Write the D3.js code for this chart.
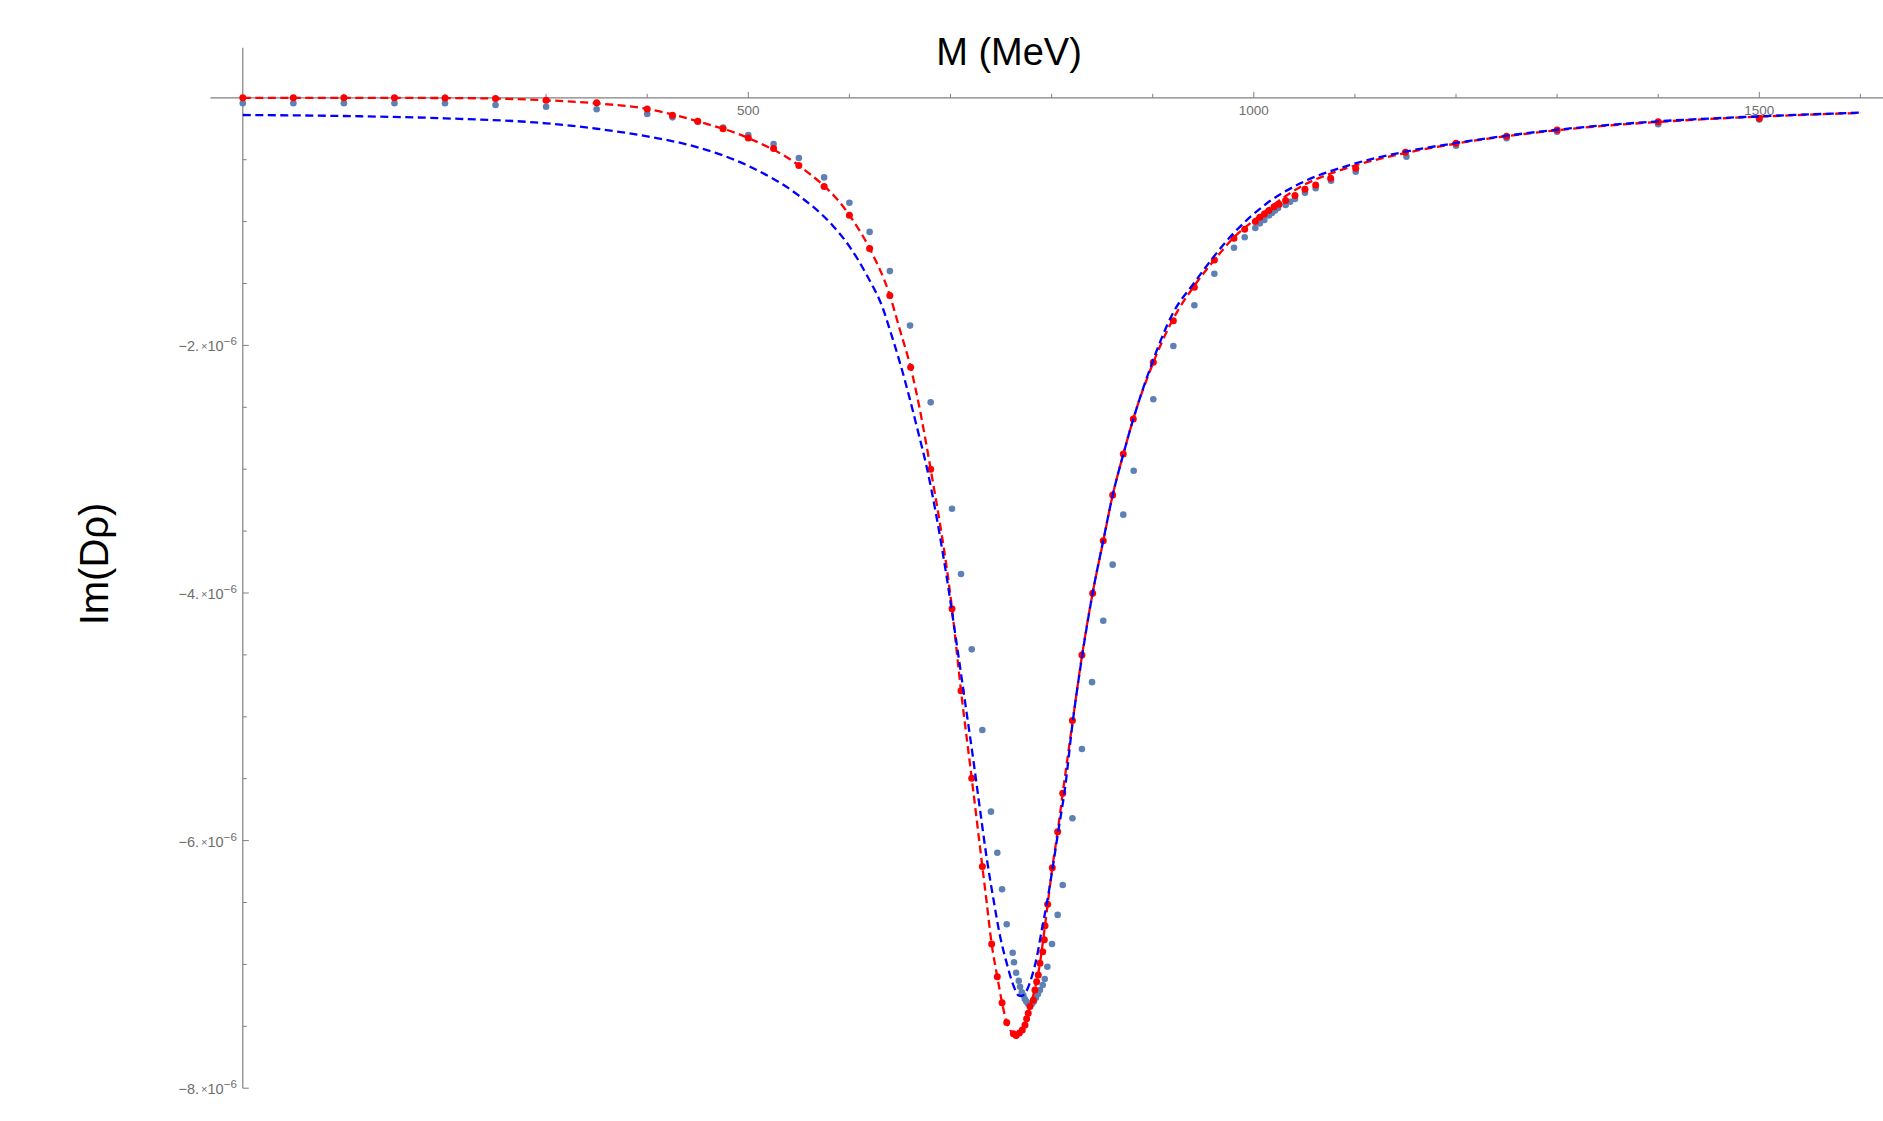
<!DOCTYPE html>
<html><head><meta charset="utf-8">
<script src="https://cdn.jsdelivr.net/npm/d3@7"></script>
<style>body{margin:0;background:#fff}svg{display:block}</style>
</head><body>
<svg id="c" width="1883" height="1121"></svg>
<script>
// ---- data (values in units of 1e-6) ----
const xMajorTicks = [500, 1000, 1500];
const xMinorTicks = [100,200,300,400,600,700,800,900,1100,1200,1300,1400,1600];
const yMajorTicks = [-2, -4, -6, -8];
const yMinorTicks = [-0.5,-1,-1.5,-2.5,-3,-3.5,-4.5,-5,-5.5,-6.5,-7,-7.5];
const yTickLabels = ["\u22122.", "\u22124.", "\u22126.", "\u22128."];

const blueM = [0,50,100,150,200,250,300,350,400,425,450,475,500,525,550,575,600,620,640,660,680.4,701.5,710.4,721,731.5,740,746.3,751,755.6,761.5,762.8,764.9,767.5,768.8,770.5,772,773.5,775,776.5,778.6,780.5,782.5,784.5,786.5,788.5,791.2,793.2,795.8,800.4,806,811,820.6,830,840,851.1,860.4,870.9,881.2,900.6,920.4,941.2,961,980.4,991,1001.5,1006,1010.4,1015,1018,1021,1024,1031.5,1036,1040.7,1050.6,1061.2,1076.4,1100.8,1151,1200,1250,1300,1400,1500];
const blueV = [-0.044,-0.044,-0.044,-0.044,-0.044,-0.058,-0.072,-0.093,-0.131,-0.158,-0.193,-0.241,-0.300,-0.374,-0.486,-0.643,-0.848,-1.083,-1.40,-1.84,-2.46,-3.319,-3.846,-4.455,-5.107,-5.766,-6.098,-6.393,-6.676,-6.906,-6.983,-7.067,-7.132,-7.18,-7.226,-7.25,-7.28,-7.30,-7.315,-7.328,-7.32,-7.30,-7.27,-7.24,-7.207,-7.167,-7.118,-7.019,-6.835,-6.60,-6.359,-5.82,-5.26,-4.72,-4.224,-3.771,-3.367,-3.012,-2.435,-2.005,-1.676,-1.421,-1.211,-1.127,-1.052,-1.014,-0.987,-0.95,-0.93,-0.91,-0.89,-0.866,-0.84,-0.818,-0.766,-0.731,-0.67,-0.597,-0.476,-0.387,-0.327,-0.274,-0.214,-0.176];

const redM = [0,50,100,150,200,250,300,350,400,425,450,475,500,525,550,575,600,620,640,660.6,680.4,701.5,710.4,721,731.5,740.7,746.3,751,755.6,762.2,764.9,768.1,771,773.7,775.3,776.9,778.6,781.9,783.5,785.2,786.8,788.5,791.2,792.8,793.5,796.1,800.7,806,811,820.6,830,840.6,851.1,860.4,870.9,880.8,900.6,920.4,941.2,961,980.4,991,1001.5,1006,1010.4,1015,1020,1025,1031.5,1040.7,1050.6,1061.2,1076,1100.8,1150,1200,1250,1300,1400,1500];
const redV = [0,0,0,0,-0.002,-0.005,-0.02,-0.04,-0.09,-0.14,-0.19,-0.25,-0.325,-0.41,-0.547,-0.717,-0.948,-1.217,-1.596,-2.177,-3.0,-4.127,-4.79,-5.497,-6.21,-6.835,-7.10,-7.31,-7.47,-7.56,-7.575,-7.555,-7.53,-7.49,-7.44,-7.395,-7.34,-7.29,-7.207,-7.14,-7.086,-6.99,-6.897,-6.80,-6.687,-6.515,-6.219,-5.928,-5.618,-5.03,-4.50,-4.002,-3.577,-3.208,-2.877,-2.594,-2.137,-1.80,-1.531,-1.31,-1.135,-1.062,-1.0,-0.965,-0.939,-0.91,-0.88,-0.86,-0.83,-0.79,-0.739,-0.704,-0.65,-0.57,-0.44,-0.368,-0.31,-0.26,-0.193,-0.165];

const redFitM = [0,100,200,250,300,350,400,450,500,550,600,620,640,650,660.6,680.4,701.5,710.4,721,731.5,735.8,740.7,746.3,751,755.6,759,762.2,764.9,768,771,775.3,778.6,783.5,788.5,792,796.1,800.7,806,811,820.6,830,840.6,851.1,860.4,870.9,880.8,900,920,941,961,980,1000,1046,1095,1145,1200,1300,1400,1500,1600];
const redFitV = [0,0,-0.002,-0.006,-0.02,-0.045,-0.09,-0.19,-0.325,-0.547,-0.948,-1.217,-1.596,-1.876,-2.177,-3.0,-4.127,-4.79,-5.497,-6.21,-6.50,-6.835,-7.10,-7.31,-7.47,-7.53,-7.56,-7.575,-7.56,-7.53,-7.44,-7.34,-7.20,-6.99,-6.78,-6.515,-6.219,-5.928,-5.618,-5.05,-4.51,-4.0,-3.58,-3.21,-2.88,-2.594,-2.15,-1.79,-1.52,-1.31,-1.13,-0.99,-0.72,-0.56,-0.455,-0.37,-0.262,-0.195,-0.152,-0.122];

const blueFitM = [0,100,200,300,350,400,450,500,550,584,600,617,633.5,641,650,660,668,676.4,686.3,696.2,706.1,716,722.6,729.2,735.8,742.4,749,755.6,762.2,767.2,770.5,775.5,780.4,785.4,790.3,795.3,800.2,806.8,813.4,820.6,830,840.6,851,860.4,870.9,881,897,920,941,980,1013,1046,1095,1145,1200,1300,1400,1500,1600];
const blueFitV = [-0.139,-0.147,-0.166,-0.206,-0.25,-0.312,-0.40,-0.55,-0.79,-1.037,-1.2,-1.43,-1.71,-1.90,-2.14,-2.44,-2.70,-2.98,-3.39,-3.87,-4.41,-4.97,-5.35,-5.75,-6.14,-6.47,-6.77,-6.99,-7.17,-7.25,-7.255,-7.21,-7.10,-6.94,-6.72,-6.506,-6.264,-5.914,-5.57,-5.06,-4.52,-4.0,-3.58,-3.21,-2.88,-2.59,-2.196,-1.74,-1.495,-1.094,-0.852,-0.691,-0.543,-0.443,-0.365,-0.258,-0.19,-0.150,-0.120];

// ---- drawing ----
const svg = d3.select("#c");
const x = d3.scaleLinear().domain([0, 1600]).range([242.8, 1860.4]);
const y = d3.scaleLinear().domain([0, -8]).range([97.8, 1088.2]);
const axisColor = "#808080", labelColor = "#6e6e6e";
const font = "Liberation Sans, Arial, sans-serif";

// axes
const gAx = svg.append("g");
gAx.append("line").attr("x1", x(-32)).attr("x2", 1883).attr("y1", y(0)).attr("y2", y(0))
  .attr("stroke", axisColor).attr("stroke-width", 1.2);
gAx.append("line").attr("x1", x(0)).attr("x2", x(0)).attr("y1", y(0.405)).attr("y2", y(-8))
  .attr("stroke", axisColor).attr("stroke-width", 1.2);
xMajorTicks.forEach(t => {
  gAx.append("line").attr("x1", x(t)).attr("x2", x(t)).attr("y1", y(0)).attr("y2", y(0) - 6)
    .attr("stroke", axisColor);
  gAx.append("text").attr("x", x(t)).attr("y", y(0) + 17).attr("text-anchor", "middle")
    .attr("font-family", font).attr("font-size", 13.5)
    .attr("fill", labelColor).text(t);
});
xMinorTicks.forEach(t => {
  gAx.append("line").attr("x1", x(t)).attr("x2", x(t)).attr("y1", y(0)).attr("y2", y(0) - 4)
    .attr("stroke", axisColor);
});
yMajorTicks.forEach((t, i) => {
  gAx.append("line").attr("x1", x(0)).attr("x2", x(0) + 6).attr("y1", y(t)).attr("y2", y(t))
    .attr("stroke", axisColor);
  const tx = gAx.append("text").attr("x", x(0) - 6).attr("y", y(t) + 6).attr("text-anchor", "end")
    .attr("font-family", font).attr("font-size", 14.5)
    .attr("fill", labelColor);
  tx.append("tspan").text(yTickLabels[i]);
  tx.append("tspan").attr("font-size", 11).attr("dx", 2).attr("dy", -1).text("\u00d7");
  tx.append("tspan").attr("dy", 1).text("10");
  tx.append("tspan").attr("font-size", 11.5).attr("dy", -6).text("\u22126");
});
yMinorTicks.forEach(t => {
  gAx.append("line").attr("x1", x(0)).attr("x2", x(0) + 4).attr("y1", y(t)).attr("y2", y(t))
    .attr("stroke", axisColor);
});

// points
const ptsBlue = blueM.map((m, i) => [m, blueV[i]]);
const ptsRed = redM.map((m, i) => [m, redV[i]]);
svg.append("g").selectAll("circle").data(ptsBlue).join("circle")
  .attr("cx", d => x(d[0])).attr("cy", d => y(d[1])).attr("r", 3.3).attr("fill", "#5E81B5");
svg.append("g").selectAll("circle").data(ptsRed).join("circle")
  .attr("cx", d => x(d[0])).attr("cy", d => y(d[1])).attr("r", 3.5).attr("fill", "#FF0000");

// fitted curves
const line = d3.line().x(d => x(d[0])).y(d => y(d[1])).curve(d3.curveMonotoneX);
svg.append("path").datum(redFitM.map((m, i) => [m, redFitV[i]]))
  .attr("d", line).attr("fill", "none").attr("stroke", "#FF0000").attr("stroke-width", 2.3)
  .attr("stroke-dasharray", "8,4.5");
svg.append("path").datum(blueFitM.map((m, i) => [m, blueFitV[i]]))
  .attr("d", line).attr("fill", "none").attr("stroke", "#0000FF").attr("stroke-width", 2.3)
  .attr("stroke-dasharray", "8,4.5");

// titles
svg.append("text").attr("x", 1009).attr("y", 65).attr("text-anchor", "middle")
  .attr("font-family", font).attr("font-size", 38).attr("fill", "#000")
  .text("M (MeV)");
svg.append("text").attr("transform", "translate(108,564) rotate(-90)").attr("text-anchor", "middle")
  .attr("font-family", font).attr("font-size", 40).attr("fill", "#000")
  .text("Im(D\u03c1)");
</script>
</body></html>
